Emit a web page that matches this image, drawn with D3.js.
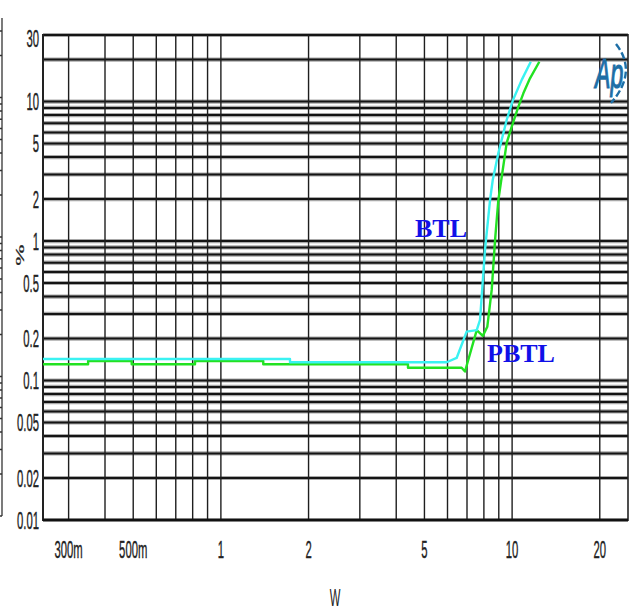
<!DOCTYPE html>
<html>
<head>
<meta charset="utf-8">
<script src="https://cdn.jsdelivr.net/npm/d3@7"></script>
<style>
  html, body { margin: 0; padding: 0; background: #fff; }
  svg { display: block; }
</style>
</head>
<body>
<svg id="chart" width="630" height="610"></svg>
<script>
// ---- data ----
const btlW   = [0.245, 1.727, 1.727, 5.96, 6.45, 6.98, 7.56, 7.76, 8.07, 8.40, 8.58, 8.97, 9.58, 10.07, 10.79, 11.59];
const btlPct = [0.1427, 0.1427, 0.1352, 0.1352, 0.1451, 0.224, 0.230, 0.272, 0.863, 1.97, 2.74, 4.28, 7.38, 10.26, 14.3, 19.3];

const pbtlW   = [0.245, 0.350, 0.350, 0.494, 0.494, 0.815, 0.815, 1.398, 1.398, 4.39, 4.39, 6.71, 6.89, 7.56, 7.93, 8.22, 8.51, 8.74, 8.97, 9.58, 9.97, 10.51, 10.93, 11.52, 12.4];
const pbtlPct = [0.1308, 0.1308, 0.1381, 0.1381, 0.1308, 0.1308, 0.1381, 0.1381, 0.1308, 0.1308, 0.1236, 0.1236, 0.116, 0.230, 0.209, 0.243, 0.446, 1.018, 1.97, 5.05, 6.61, 9.19, 11.46, 14.68, 19.3];

const xTickValues = [0.3, 0.5, 1, 2, 5, 10, 20];
const xTickLabels = ["300m", "500m", "1", "2", "5", "10", "20"];
const yTickValues = [30, 10, 5, 2, 1, 0.5, 0.2, 0.1, 0.05, 0.02, 0.01];
const yTickLabels = ["30", "10", "5", "2", "1", "0.5", "0.2", "0.1", "0.05", "0.02", "0.01"];

const seriesNames = ["BTL", "PBTL"];

// ---- layout ----
const svg = d3.select("#chart");
const L = 43, R = 628, T = 35, B = 520;
const x = d3.scaleLog().domain([0.245, 25]).range([L, R]);
const y = d3.scaleLog().domain([0.01, 30]).range([B, T]);

// left-edge artifact (cropped neighbouring axis)
const art = svg.append("g");
art.append("line").attr("x1", 2).attr("x2", 2).attr("y1", 18).attr("y2", 516)
  .attr("stroke", "#333").attr("stroke-width", 1.3);
art.selectAll("line.t").data(y.ticks()).enter().append("line")
  .attr("x1", 0).attr("x2", 2)
  .attr("y1", d => y(d) - 4).attr("y2", d => y(d) - 4)
  .attr("stroke", "#333").attr("stroke-width", 1.5);

// ---- grid ----
const grid = svg.append("g");
const yt = y.ticks();
grid.selectAll("line.hh").data(yt).enter().append("line")
  .attr("x1", L).attr("x2", R).attr("y1", d => y(d)).attr("y2", d => y(d))
  .attr("stroke", "#a8a8a8").attr("stroke-width", 4.2);
grid.selectAll("line.h").data(yt).enter().append("line")
  .attr("x1", L).attr("x2", R).attr("y1", d => y(d)).attr("y2", d => y(d))
  .attr("stroke", "#141414").attr("stroke-width", 2);

const xt = x.ticks();
grid.selectAll("line.v").data(xt).enter().append("line")
  .attr("x1", d => x(d)).attr("x2", d => x(d)).attr("y1", T).attr("y2", B)
  .attr("stroke", "#1e1e1e").attr("stroke-width", 1.4);

// frame
grid.append("line").attr("x1", L).attr("x2", L).attr("y1", T - 1).attr("y2", B + 1)
  .attr("stroke", "#222").attr("stroke-width", 2);
grid.append("line").attr("x1", R).attr("x2", R).attr("y1", T - 1).attr("y2", B + 1)
  .attr("stroke", "#222").attr("stroke-width", 1.6);
grid.append("line").attr("x1", L).attr("x2", R).attr("y1", B).attr("y2", B)
  .attr("stroke", "#111").attr("stroke-width", 2.6);

// ---- curves ----
const line = d3.line().x(d => x(d[0])).y(d => y(d[1]));
const btl = btlW.map((w, i) => [w, btlPct[i]]);
const pbtl = pbtlW.map((w, i) => [w, pbtlPct[i]]);

svg.append("path").datum(pbtl).attr("d", line)
  .attr("fill", "none").attr("stroke", "#22e222").attr("stroke-width", 2.4)
  .attr("stroke-linejoin", "round");
svg.append("path").datum(btl).attr("d", line)
  .attr("fill", "none").attr("stroke", "#3af2f2").attr("stroke-width", 2.4)
  .attr("stroke-linejoin", "round");

// ---- tick labels (condensed) ----
const fs = 24, sx = 0.47;
const labFont = "Liberation Sans, Arial, sans-serif";
const yLab = svg.append("g");
yTickValues.forEach((v, i) => {
  let yy = Math.max(38, Math.min(524, y(v)));
  yLab.append("text")
    .attr("transform", `translate(39,${yy + 8.5}) scale(${sx},1)`)
    .attr("text-anchor", "end")
    .attr("font-family", labFont).attr("font-size", fs).attr("fill", "#222")
    .attr("stroke", "#222").attr("stroke-width", 0.4)
    .text(yTickLabels[i]);
});
const xLab = svg.append("g");
xTickValues.forEach((v, i) => {
  xLab.append("text")
    .attr("transform", `translate(${x(v)},558) scale(${sx},1)`)
    .attr("text-anchor", "middle")
    .attr("font-family", labFont).attr("font-size", fs).attr("fill", "#222")
    .attr("stroke", "#222").attr("stroke-width", 0.4)
    .text(xTickLabels[i]);
});

// axis titles
svg.append("text")
  .attr("transform", `translate(335,606) scale(${sx},1)`)
  .attr("text-anchor", "middle")
  .attr("font-family", labFont).attr("font-size", fs).attr("fill", "#222")
  .text("W");
svg.append("text")
  .attr("transform", `translate(24,255) scale(${sx},1) rotate(-90)`)
  .attr("text-anchor", "middle")
  .attr("font-family", labFont).attr("font-size", fs).attr("fill", "#222")
  .attr("stroke", "#222").attr("stroke-width", 0.4)
  .text("%");

// ---- series labels ----
svg.append("text").attr("x", 415).attr("y", 237)
  .attr("font-family", "Liberation Serif, Times New Roman, serif")
  .attr("font-weight", "bold").attr("font-size", 26).attr("fill", "#1010e8")
  .text(seriesNames[0]);
svg.append("text").attr("x", 487).attr("y", 362)
  .attr("font-family", "Liberation Serif, Times New Roman, serif")
  .attr("font-weight", "bold").attr("font-size", 26).attr("fill", "#1010e8")
  .text(seriesNames[1]);

// ---- logo ----
const logo = svg.append("g");
logo.append("text")
  .attr("transform", "translate(595,88) scale(0.55,1)")
  .attr("font-family", "Liberation Sans, sans-serif").attr("font-style", "italic")
  .attr("font-size", 42).attr("fill", "#1d6ea6")
  .attr("stroke", "#1d6ea6").attr("stroke-width", 1.2)
  .text("Ap");
logo.append("path")
  .attr("d", "M616,44 Q638,72 611,103")
  .attr("fill", "none").attr("stroke", "#1d6ea6").attr("stroke-width", 2.4)
  .attr("stroke-dasharray", "7,3");
</script>
</body>
</html>
